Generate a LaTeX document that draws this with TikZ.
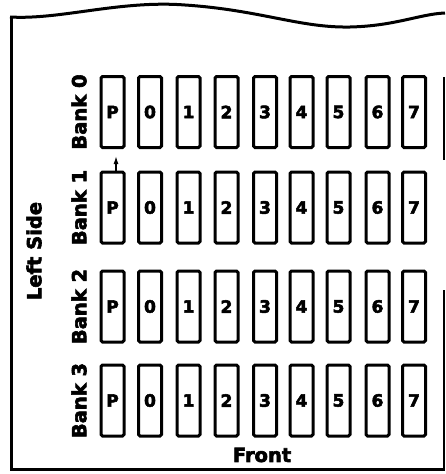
\documentclass[tikz,border=0pt]{standalone}
\usepackage{fontspec}
\setmainfont{DejaVu Sans}
\newfontfamily\heavyfont[FakeBold=3]{DejaVu Sans Bold}
\usetikzlibrary{arrows.meta}
\begin{document}
\begin{tikzpicture}[x=1pt,y=-1pt,
  slot/.style={draw, line width=3pt, rounded corners=1.5pt, minimum width=23pt,
    minimum height=71pt, inner sep=0pt, font=\heavyfont\fontsize{17}{17}\selectfont},
  banklab/.style={rotate=90, inner sep=0pt, font=\heavyfont\fontsize{19.5}{19.5}\selectfont},
  sidelab/.style={inner sep=0pt, font=\heavyfont\fontsize{19.5}{19.5}\selectfont},
  frameline/.style={line width=3pt},
  pointer/.style={line width=1.4pt, -{Latex[length=8pt,width=5pt]}}]
\useasboundingbox (0,0) rectangle (445,474);
% frame
\draw[frameline] (10,17) .. controls (60,20) and (120,0) .. (185,5)
  .. controls (260,10) and (300,28) .. (350,27)
  .. controls (395,26) and (420,14) .. (445,13);
\draw[frameline] (11,16) -- (11,469) -- (445,469);
\draw[line width=2.5pt] (444,77) -- (444,160);
\draw[line width=2.5pt] (444,290) -- (444,469);
% banks
\foreach \r/\yy in {0/112,1/207.5,2/306.5,3/400.5}{
  \node[banklab] (bank\r) at (79,\yy) {Bank \r};
  \foreach \c/\xx/\t in {0/112.5/P,1/150/0,2/188.5/1,3/226.5/2,4/265/3,5/301.5/4,6/338.5/5,7/377.5/6,8/414/7}{
    \node[slot] (s\r-\c) at (\xx,\yy) {\t};
  }
}
% labels
\node[sidelab, rotate=90] (left) at (34,251) {Left Side};
\node[sidelab] (front) at (262,455) {Front};
% pointer
\coordinate (tip) at (116,156);
\draw[pointer] (s1-0.north -| tip) -- (tip);
\end{tikzpicture}
\end{document}
